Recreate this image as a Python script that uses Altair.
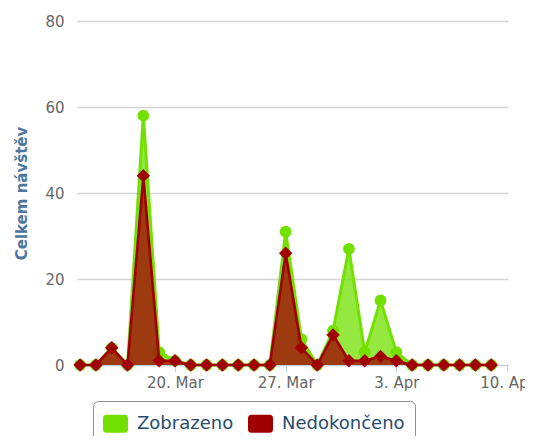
import altair as alt
import pandas as pd

# ---- data ----
dates = pd.date_range("2013-03-14", "2013-04-09", freq="D")
zobrazeno = [0, 0, 4, 0, 58, 3, 1, 0, 0, 0, 0, 0, 0, 31, 6, 0, 8, 27, 3, 15, 3, 0, 0, 0, 0, 0, 0]
nedokonceno = [0, 0, 4, 0, 44, 1, 1, 0, 0, 0, 0, 0, 0, 26, 4, 0, 7, 1, 1, 2, 1, 0, 0, 0, 0, 0, 0]
series_names = ["Zobrazeno", "Nedokončeno"]
series_colors = ["#72e000", "#a00000"]
x_tick_dates = ["2013-03-20", "2013-03-27", "2013-04-03", "2013-04-10"]
y_ticks = [0, 20, 40, 60, 80]
x_domain = ["2013-03-13T19:18:00", "2013-04-10T01:30:00"]


def ms(s):
    return int(pd.Timestamp(s, tz="UTC").value // 10**6)


rows = []
for d, a, b in zip(dates, zobrazeno, nedokonceno):
    ds = d.strftime("%Y-%m-%dT00:00:00Z")
    rows.append({"date": ds, "series": series_names[0], "value": a})
    rows.append({"date": ds, "series": series_names[1], "value": b})
df = pd.DataFrame(rows)

FONT = "DejaVu Sans"
rounded_rect = ("M-0.72,-0.72 L0.72,-0.72 Q1,-0.72 1,-0.44 L1,0.44 Q1,0.72 0.72,0.72 "
                "L-0.72,0.72 Q-1,0.72 -1,0.44 L-1,-0.44 Q-1,-0.72 -0.72,-0.72 Z")

x_enc = alt.X(
    "date:T",
    scale=alt.Scale(type="utc", domain=[ms(x_domain[0]), ms(x_domain[1])], nice=False),
    axis=alt.Axis(
        title=None, values=[ms(t) for t in x_tick_dates], format="%-d. %b",
        grid=False, domainColor="#C0D0E0", domainWidth=1, tickColor="#C0D0E0",
        tickSize=7, tickWidth=1, labelFontSize=15, labelFont=FONT, labelColor="#666666",
        labelPadding=3, labelFlush=False, labelOverlap=False,
    ),
)
y_enc = alt.Y(
    "value:Q",
    stack=None,
    scale=alt.Scale(domain=[0, 80], nice=False),
    axis=alt.Axis(
        title="Celkem návštěv", values=y_ticks, grid=True, gridColor="#d4d4d4",
        gridWidth=1.4, domain=False, ticks=False, labelPadding=13, labelFontSize=15,
        labelFont=FONT, labelColor="#666666", labelBaseline="middle",
        titleFont=FONT, titleFontSize=15, titleFontWeight="bold", titleColor="#4d759e",
        titleAngle=270, titleX=-56, titleY=172, titleAlign="center", titleBaseline="middle",
    ),
)

color_enc = alt.Color(
    "series:N",
    scale=alt.Scale(domain=series_names, range=series_colors),
    legend=alt.Legend(
        title=None, orient="none", legendX=16, legendY=380, direction="horizontal",
        symbolType=rounded_rect, symbolSize=625, symbolOpacity=1, symbolStrokeWidth=0,
        labelFontSize=18, labelFont=FONT, labelColor="#274b6d", labelLimit=300,
        strokeColor="#909090", fillColor="#ffffff", cornerRadius=5, padding=10,
        columnPadding=14, labelOffset=9,
    ),
)

base = alt.Chart(df).encode(x=x_enc, y=y_enc)


def layers_for(name, color, shape, size, lw):
    b = base.transform_filter(alt.datum.series == name)
    area = b.mark_area(opacity=0.75, interpolate="linear").encode(color=color_enc)
    line = b.mark_line(color=color, strokeWidth=lw, interpolate="linear")
    pts = b.mark_point(shape=shape, filled=True, size=size, color=color, opacity=1, strokeWidth=0)
    return [area, line, pts]


chart = alt.layer(
    *layers_for(series_names[0], series_colors[0], "circle", 140, 3),
    *layers_for(series_names[1], series_colors[1], "diamond", 180, 2.6),
).properties(
    width=431, height=344,
    padding={"left": 69, "top": 13, "right": 17, "bottom": 71},
    autosize=alt.AutoSizeParams(type="none"),
).configure_view(stroke=None)

chart.save("out.html", embed_options={"renderer": "svg", "actions": False})
